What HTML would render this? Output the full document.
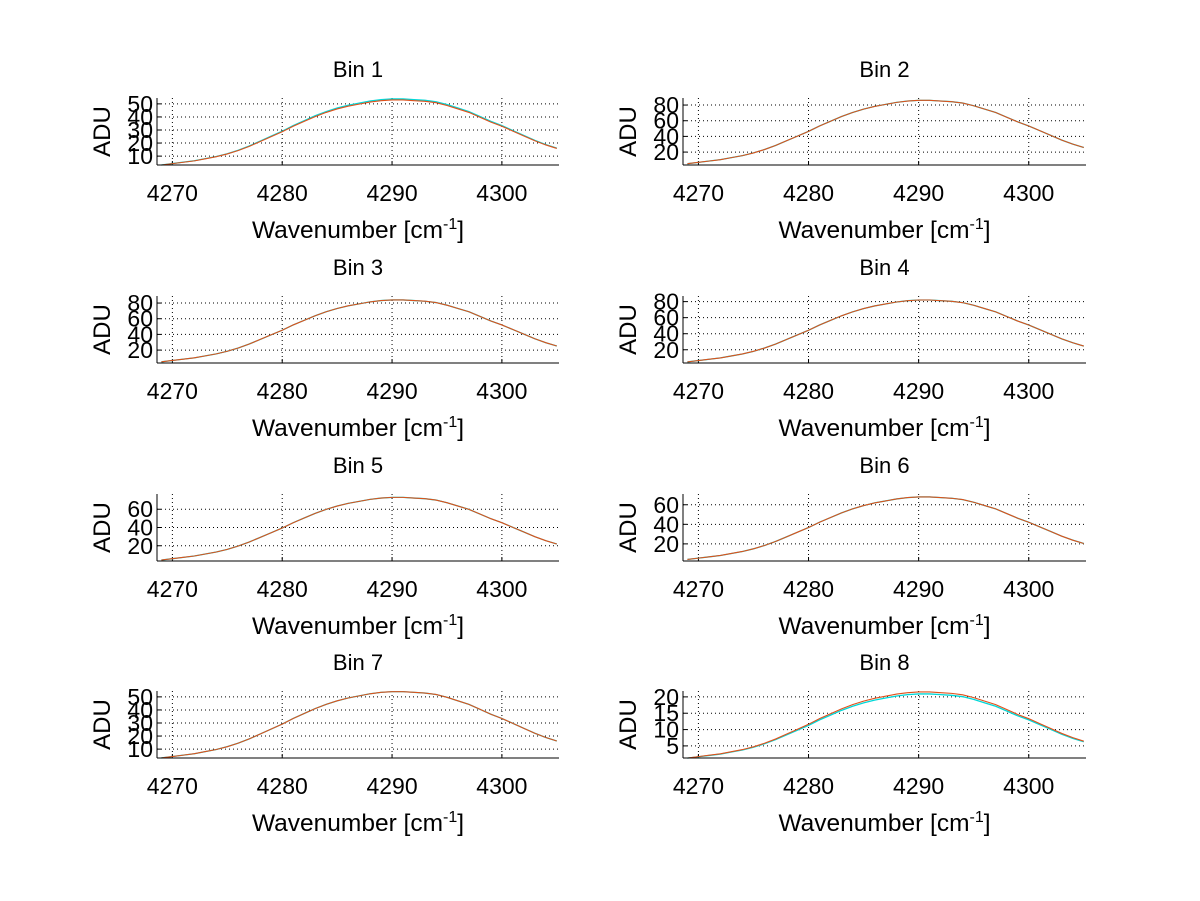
<!DOCTYPE html>
<html><head><meta charset="utf-8"><style>
body{margin:0;background:#fff;}
svg{display:block;font-family:"Liberation Sans",sans-serif;}
</style></head><body>
<svg id="fig" width="1200" height="901"></svg>
<script>
const wavenumbers=[4269,4270,4271,4272,4273,4274,4275,4276,4277,4278,4279,4280,4281,4282,4283,4284,4285,4286,4287,4288,4289,4290,4291,4292,4293,4294,4295,4296,4297,4298,4299,4300,4301,4302,4303,4304,4305];
const shape=[0.06,0.08,0.10,0.12,0.15,0.18,0.22,0.27,0.33,0.40,0.47,0.54,0.62,0.69,0.76,0.82,0.87,0.91,0.94,0.97,0.99,1.0,1.0,0.99,0.98,0.96,0.92,0.87,0.82,0.75,0.68,0.62,0.55,0.48,0.41,0.35,0.30];
const binTitles=["Bin 1","Bin 2","Bin 3","Bin 4","Bin 5","Bin 6","Bin 7","Bin 8"];
const binPeaks=[53,86,84,82,73,68,54,21.5];
const cyanOffsets=[0.8,0,0,0,0,0,0,-0.6];
const yMins=[3.2,3.5,3.5,3.5,3.3,2.5,3.2,1.3];
const yMaxs=[54.5,89,89,87,76.7,71,54.5,21.8];
const yTicks=[[10,20,30,40,50],[20,40,60,80],[20,40,60,80],[20,40,60,80],[20,40,60],[20,40,60],[10,20,30,40,50],[5,10,15,20]];
const xTicks=[4270,4280,4290,4300];
const xMin=4268.6, xMax=4305.2;

const NS="http://www.w3.org/2000/svg";
const svg=document.getElementById('fig');
function mk(tag,attrs,parent){const e=document.createElementNS(NS,tag);for(const k in attrs)e.setAttribute(k,attrs[k]);(parent||svg).appendChild(e);return e;}
const colLeft=[157,683], colW=[402,403];
const rowTop=[98,296,494,691], rowH=67;
for(let b=0;b<8;b++){
  const c=b%2, r=Math.floor(b/2);
  const L=colLeft[c], W=colW[c], T=rowTop[r], H=rowH;
  const g=mk('g',{});
  
  
  const xs=v=>L+(v-xMin)/(xMax-xMin)*W;
  const ys=v=>T+H-(v-yMins[b])/(yMaxs[b]-yMins[b])*H;
  xTicks.forEach(t=>{const x=xs(t);
    const gl=mk('line',{x1:x,x2:x,y1:T,y2:T+H,stroke:'#000','stroke-width':1,'stroke-dasharray':'1,3'},g);
    
    mk('line',{x1:x,x2:x,y1:T+H,y2:T+H-4,stroke:'#000'},g);
    const tl=mk('text',{x:x,y:T+H+36,'text-anchor':'middle','font-size':23},g);tl.textContent=t;
    
  });
  yTicks[b].forEach(t=>{const y=ys(t);
    const gl=mk('line',{x1:L,x2:L+W,y1:y,y2:y,stroke:'#000','stroke-width':1,'stroke-dasharray':'1,3'},g);
    
    mk('line',{x1:L,x2:L+4,y1:y,y2:y,stroke:'#000'},g);
    const tl=mk('text',{x:L-4,y:y+8,'text-anchor':'end','font-size':23},g);tl.textContent=t;
    
  });
  const cyanPts=wavenumbers.map((w,i)=>xs(w)+','+ys(shape[i]*binPeaks[b]+cyanOffsets[b]*shape[i])).join(' ');
  const redPts=wavenumbers.map((w,i)=>xs(w)+','+ys(shape[i]*binPeaks[b])).join(' ');
  const cl=mk('polyline',{points:cyanPts,fill:'none',stroke:'#00d8d8','stroke-width':1.3},g);
  
  const rl=mk('polyline',{points:redPts,fill:'none',stroke:'#e0501a','stroke-width':1.1},g);
  
  mk('line',{x1:L,x2:L,y1:T,y2:T+H,stroke:'#000'},g);
  mk('line',{x1:L,x2:L+W,y1:T+H,y2:T+H,stroke:'#000'},g);
  const tt=mk('text',{x:L+W/2,y:T-21,'text-anchor':'middle','font-size':22},g);tt.textContent=binTitles[b];
  
  const xl=mk('text',{x:L+W/2,y:T+H+73,'text-anchor':'middle','font-size':24.5},g);
  
  xl.appendChild(document.createTextNode('Wavenumber [cm'));
  const sup=mk('tspan',{dy:-9,'font-size':16},xl);sup.textContent='-1';
  const cls=mk('tspan',{dy:9,'font-size':24.5},xl);cls.textContent=']';
  const yl=mk('text',{x:0,y:0,'text-anchor':'middle','font-size':24,transform:`translate(${L-47},${T+H/2}) rotate(-90)`},g);
  yl.textContent='ADU';
  
}
</script>
</body></html>
